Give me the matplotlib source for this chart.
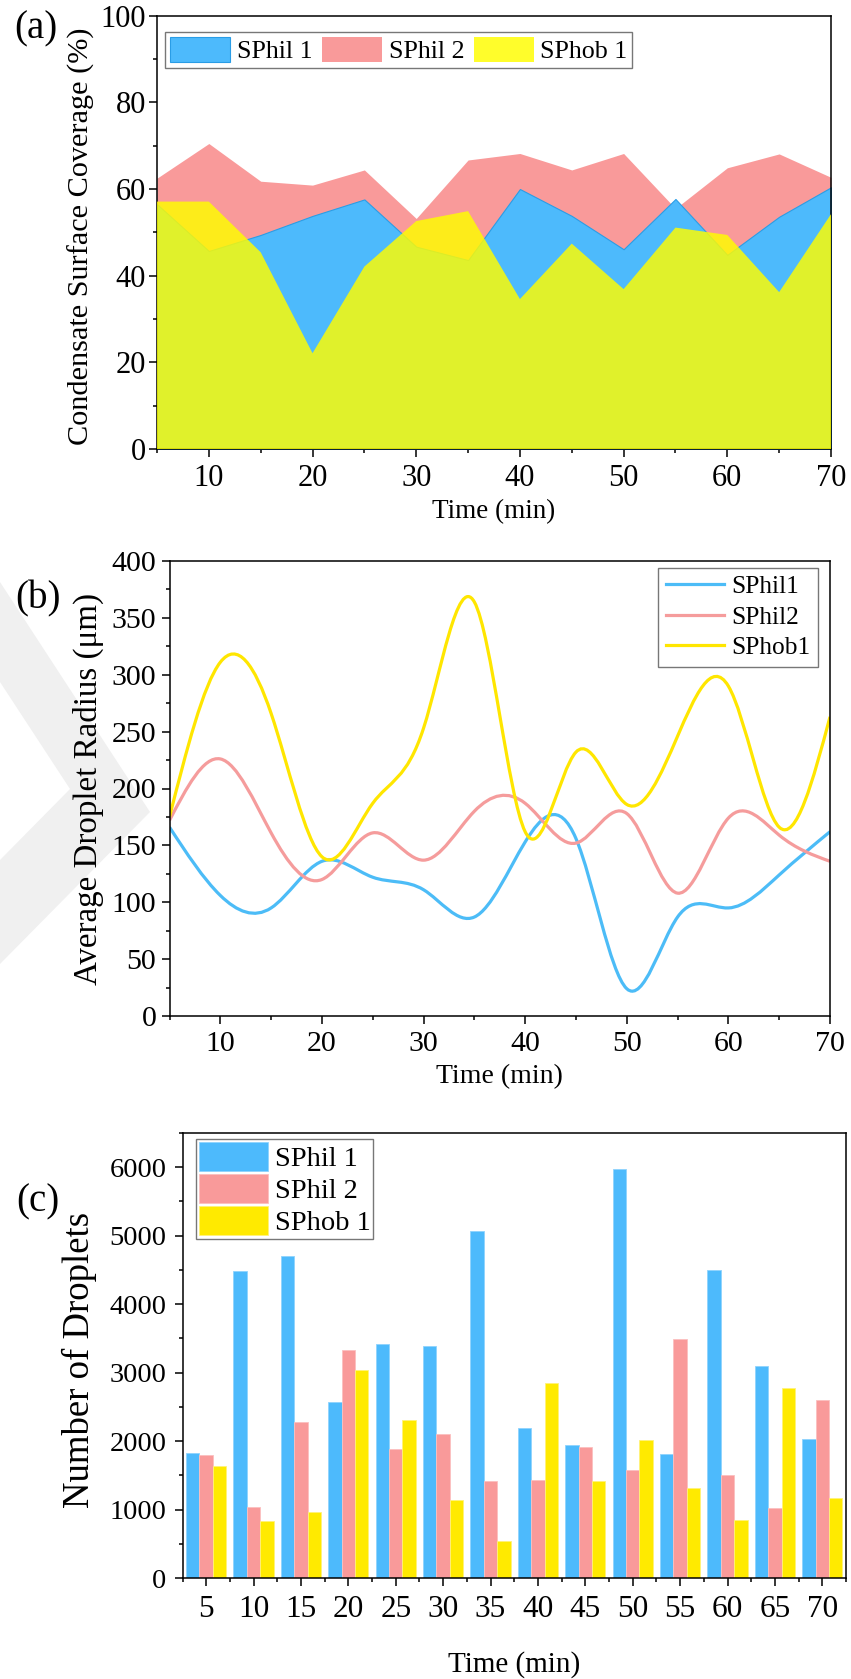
"""Condensate coverage / droplet radius / droplet count figure (matplotlib)."""
import matplotlib
matplotlib.use("Agg")
import matplotlib.pyplot as plt
import numpy as np
from matplotlib.lines import Line2D
from matplotlib.patches import PathPatch, Polygon
from matplotlib.path import Path
from matplotlib.ticker import MultipleLocator

plt.rcParams["font.family"] = ["Liberation Serif", "DejaVu Serif"]
plt.rcParams["axes.linewidth"] = 1.1
plt.rcParams["xtick.direction"] = "out"
plt.rcParams["ytick.direction"] = "out"

# ---- data ----
time = [5, 10, 15, 20, 25, 30, 35, 40, 45, 50, 55, 60, 65, 70]
labels_c = ["SPhil 1", "SPhil 2", "SPhob 1"]
labels_b = ["SPhil1", "SPhil2", "SPhob1"]

# (a) condensate surface coverage (%)
cov_sphil1 = [56.5, 45.7, 49.4, 53.8, 57.6, 46.7, 43.6, 60.0, 53.8, 46.1, 57.7, 44.8, 53.6, 60.4]
cov_sphil2 = [62.5, 70.5, 61.8, 60.9, 64.4, 53.2, 66.7, 68.2, 64.4, 68.2, 55.5, 64.9, 68.1, 62.7]
cov_sphob1 = [57.1, 57.1, 45.4, 22.1, 42.1, 52.6, 54.9, 34.6, 47.4, 36.9, 51.1, 49.4, 36.2, 54.2]

# (b) average droplet radius (um)
rad_sphil1 = [166, 106, 95, 136, 122, 111, 87, 153, 156, 24, 87, 95, 124, 162]
rad_sphil2 = [172, 226, 161, 120, 161, 137, 180, 187, 152, 178, 108, 174, 159, 136]
rad_sphob1 = [175, 311, 266, 140, 187, 253, 364, 162, 232, 186, 246, 290, 166, 263]

# (c) number of droplets
num_sphil1 = [1820, 4490, 4700, 2570, 3415, 3390, 5070, 2185, 1950, 5975, 1805, 4500, 3100, 2035]
num_sphil2 = [1800, 1035, 2275, 3330, 1880, 2105, 1420, 1435, 1915, 1580, 3485, 1500, 1025, 2600]
num_sphob1 = [1640, 830, 970, 3035, 2305, 1135, 545, 2855, 1420, 2015, 1315, 850, 2780, 1170]

BLUE = "#4dbafc"
RED = "#f99a9a"
YELLOW = "#ffea00"
LINE_COLORS = ["#4cbcf7", "#f59c9c", "#ffe600"]

W, H = 851, 1679


def spline_path(x, y):
    """Natural cubic spline through the points, written as Bezier segments."""
    x = np.asarray(x, float)
    y = np.asarray(y, float)
    n = len(x)
    h = np.diff(x)
    A = np.zeros((n, n))
    r = np.zeros(n)
    A[0, 0] = A[-1, -1] = 1.0
    for i in range(1, n - 1):
        A[i, i - 1] = h[i - 1]
        A[i, i] = 2 * (h[i - 1] + h[i])
        A[i, i + 1] = h[i]
        r[i] = 6 * ((y[i + 1] - y[i]) / h[i] - (y[i] - y[i - 1]) / h[i - 1])
    M = np.linalg.solve(A, r)
    s = np.empty(n)
    s[:-1] = (y[1:] - y[:-1]) / h - h * (2 * M[:-1] + M[1:]) / 6
    s[-1] = (y[-1] - y[-2]) / h[-1] + h[-1] * (M[-2] + 2 * M[-1]) / 6
    verts = [(x[0], y[0])]
    codes = [Path.MOVETO]
    for i in range(n - 1):
        d = h[i] / 3
        verts += [(x[i] + d, y[i] + s[i] * d), (x[i + 1] - d, y[i + 1] - s[i + 1] * d), (x[i + 1], y[i + 1])]
        codes += [Path.CURVE4] * 3
    return Path(verts, codes)


def px_axes(left, top, right, bottom):
    return [left / W, 1 - bottom / H, (right - left) / W, (bottom - top) / H]


def style_ticks(ax, size, xpad, ypad):
    ax.tick_params(which="major", length=6, width=1.1, labelsize=size)
    ax.tick_params(which="minor", length=3.2, width=1.1)
    ax.tick_params(axis="x", pad=xpad)
    ax.tick_params(axis="y", pad=ypad)
    ax.tick_params(top=False, right=False)


fig = plt.figure(figsize=(W / 100, H / 100), dpi=100)

# faint watermark left of panel (b)
wm = [(0, 582), (150, 812), (0, 964), (0, 860), (70, 789), (0, 682)]
fig.patches.append(Polygon([(x / W, 1 - y / H) for x, y in wm], closed=True, transform=fig.transFigure,
                           facecolor="#f0f0f0", edgecolor="none", zorder=-1))

# ---- (a) ----
ax1 = fig.add_axes(px_axes(157, 15.7, 831, 449))
ax1.fill_between(time, 0, cov_sphil2, color=RED, lw=0, label="SPhil 2", zorder=1)
ax1.fill_between(time, 0, cov_sphil1, facecolor=BLUE, edgecolor="#2a9de6", lw=0.8, label="SPhil 1", zorder=2)
ax1.fill_between(time, 0, cov_sphob1, facecolor="#fffd00", alpha=0.83, lw=0, label="SPhob 1", zorder=3)
ax1.set_xlim(5, 70)
ax1.set_ylim(0, 100)
ax1.xaxis.set_major_locator(MultipleLocator(10))
ax1.xaxis.set_minor_locator(MultipleLocator(5))
ax1.yaxis.set_major_locator(MultipleLocator(20))
ax1.yaxis.set_minor_locator(MultipleLocator(10))
style_ticks(ax1, 22, 5, 2)
ax1.set_xlabel("Time (min)", fontsize=19.5, labelpad=4)
ax1.set_ylabel("Condensate Surface Coverage (%)", fontsize=21.8)
ax1.yaxis.set_label_coords(-0.092, 0.49)
h, l = ax1.get_legend_handles_labels()
order = [1, 0, 2]
ax1.legend([h[i] for i in order], [l[i] for i in order], loc="upper left", bbox_to_anchor=(0.0126, 0.962),
           ncol=3, fontsize=18.7, frameon=True, fancybox=False, edgecolor="#777777", framealpha=1,
           handlelength=2.3, handleheight=1.12, handletextpad=0.26, columnspacing=0.38,
           borderpad=0.18, borderaxespad=0)
fig.text(35.5 / W, 1 - 28.5 / H, "(a)", fontsize=28, ha="center", va="center")

# ---- (b) ----
ax2 = fig.add_axes(px_axes(169.5, 561, 830, 1016))
for y, c in zip([rad_sphil1, rad_sphil2, rad_sphob1], LINE_COLORS):
    ax2.add_patch(PathPatch(spline_path(time, y), fill=False, edgecolor=c, lw=2.3))
ax2.set_xlim(5, 70)
ax2.set_ylim(0, 400)
ax2.xaxis.set_major_locator(MultipleLocator(10))
ax2.xaxis.set_minor_locator(MultipleLocator(5))
ax2.yaxis.set_major_locator(MultipleLocator(50))
ax2.yaxis.set_minor_locator(MultipleLocator(25))
style_ticks(ax2, 21.5, 5, 3.5)
ax2.set_xlabel("Time (min)", fontsize=20, labelpad=5)
ax2.set_ylabel("Average Droplet Radius (μm)", fontsize=23.8)
ax2.yaxis.set_label_coords(-0.0998, 0.5)
handles_b = [Line2D([], [], color=c, lw=2.3) for c in LINE_COLORS]
ax2.legend(handles_b, labels_b, loc="upper right", bbox_to_anchor=(0.982, 0.985), fontsize=18.3,
           frameon=True, fancybox=False, edgecolor="#777777", framealpha=1, handlelength=2.3,
           handletextpad=0.28, labelspacing=0.3, borderpad=0.3, borderaxespad=0)
fig.text(38 / W, 1 - 599 / H, "(b)", fontsize=28, ha="center", va="center")

# ---- (c) ----
ax3 = fig.add_axes(px_axes(182.5, 1133, 846, 1578))
idx = np.arange(len(time))
w = 0.283
ax3.bar(idx - w, num_sphil1, w, color=BLUE, edgecolor="#8fd3fd", lw=0.6, label=labels_c[0])
ax3.bar(idx, num_sphil2, w, color=RED, edgecolor="#fbc0c0", lw=0.6, label=labels_c[1])
ax3.bar(idx + w, num_sphob1, w, color=YELLOW, edgecolor="#fff27a", lw=0.6, label=labels_c[2])
ax3.set_xlim(-0.5, len(time) - 0.5)
ax3.set_ylim(0, 6500)
ax3.set_xticks(idx)
ax3.set_xticklabels([str(t) for t in time])
ax3.set_xticks(np.append(idx - 0.5, idx[-1] + 0.5), minor=True)
ax3.yaxis.set_major_locator(MultipleLocator(1000))
ax3.yaxis.set_minor_locator(MultipleLocator(500))
style_ticks(ax3, 20.5, 6, 5.5)
ax3.tick_params(axis="x", which="major", labelsize=22.5)
ax3.set_xlabel("Time (min)", fontsize=21, labelpad=20)
ax3.set_ylabel("Number of Droplets", fontsize=26.5)
ax3.yaxis.set_label_coords(-0.1295, 0.491)
ax3.legend(loc="upper left", bbox_to_anchor=(0.021, 0.9865), fontsize=20.5, frameon=True, fancybox=False,
           edgecolor="#777777", framealpha=1, handlelength=2.4, handleheight=1.2, handletextpad=0.25,
           labelspacing=0.07, borderpad=0.1, borderaxespad=0)
fig.text(37.5 / W, 1 - 1202 / H, "(c)", fontsize=28, ha="center", va="center")

fig.savefig("out.png", dpi=100)
